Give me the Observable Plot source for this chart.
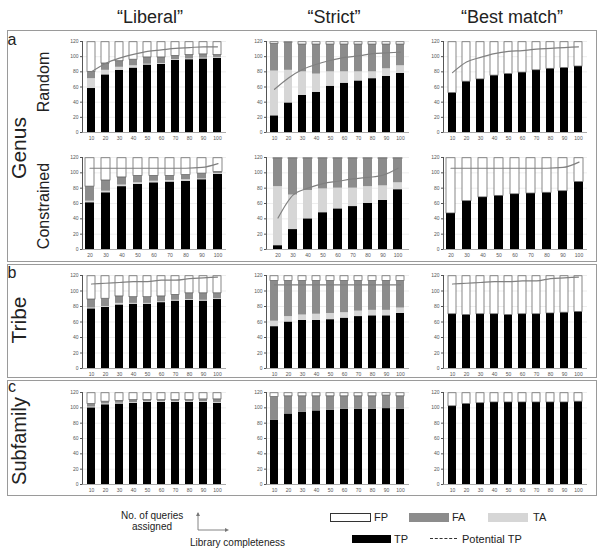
<!DOCTYPE html>
<html><head><meta charset="utf-8">
<script src="https://cdn.jsdelivr.net/npm/d3@7"></script>
<script src="https://cdn.jsdelivr.net/npm/@observablehq/plot@0.6"></script>
<style>
body{margin:0;background:#fff;font-family:"Liberation Sans",Arial,sans-serif;}
#fig{position:relative;width:600px;height:551px;overflow:hidden;background:#fff;}
.box{position:absolute;border:1.5px solid #9a9a9a;box-sizing:border-box;}
.title{position:absolute;font-size:18px;color:#222;transform:translate(-50%,-50%);white-space:nowrap;}
.vlab{position:absolute;transform:translate(-50%,-50%) rotate(-90deg);white-space:nowrap;color:#222;}
.letter{position:absolute;font-size:16px;color:#222;transform:translate(-50%,-50%);}
.lg{position:absolute;font-size:11px;color:#222;white-space:nowrap;transform:translateY(-50%);}
.sw{position:absolute;box-sizing:border-box;}
</style></head>
<body><div id="fig"></div>
<script>
// ---------- data ----------
const colTitles = ["\u201cLiberal\u201d", "\u201cStrict\u201d", "\u201cBest match\u201d"];
const xFull = [10,20,30,40,50,60,70,80,90,100];
const xCons = [20,30,40,50,60,70,80,90,100];
const yTicks = [0,20,40,60,80,100,120];

// Genus - Random
const libRandTP = [58,76,82,85,89,90,95,96,97,98];
const libRandTA = [13,6,4,3,1,1,1,1,1,1];
const libRandFA = [9,9,8,8,9,8,5,5,5,3];
const libRandFP = [39,28,25,23,20,20,18,17,16,17];
const libRandPot = [80,91,98,103,107,109,111,112,113,113];

const strRandTP = [22,39,49,53,61,65,68,71,74,78];
const strRandTA = [59,43,31,24,19,15,12,9,10,10];
const strRandFA = [36,36,36,39,36,36,36,36,32,28];
const strRandFP = [2,1,3,3,3,3,3,3,3,3];
const strRandPot = [57,72,83,90,95,99,101,104,105,106];

const bestRandTP = [52,67,70,75,77,79,82,84,85,87];
const bestRandFP = [67,52,49,44,42,40,37,35,34,32];
const bestRandPot = [79,93,99,104,107,108,110,111,112,113];

// Genus - Constrained
const libConsTP = [61,74,82,85,87,88,89,91,98];
const libConsTA = [2,2,2,2,2,2,2,1,1];
const libConsFA = [19,14,10,9,7,6,6,7,2];
const libConsFP = [37,29,25,23,23,23,22,20,18];
const libConsPot = [106,106,106,106,106,106,106,107,112];

const strConsTP = [5,26,40,48,53,56,60,64,78];
const strConsTA = [77,45,37,31,27,24,22,19,9];
const strConsFA = [36,47,41,39,38,38,36,35,31];
const strConsFP = [1,1,1,1,1,1,1,1,1];
const strConsPot = [41,71,80,86,89,92,94,97,106];

const bestConsTP = [47,63,68,70,72,73,74,76,88];
const bestConsFP = [72,56,51,49,47,46,45,43,31];
const bestConsPot = [106,106,106,106,106,106,106,107,114];

// Tribe
const libTribeTP = [77,79,82,83,83,85,87,88,87,89];
const libTribeTA = [1,1,2,1,1,1,1,1,1,1];
const libTribeFA = [11,10,9,8,8,7,7,8,9,7];
const libTribeFP = [30,29,26,27,27,26,24,22,22,22];
const libTribePot = [109,110,111,112,112,114,114,116,117,118];

const strTribeTP = [54,60,62,62,63,65,67,68,68,71];
const strTribeTA = [7,7,7,8,8,7,7,7,7,7];
const strTribeFA = [52,46,44,43,42,41,39,38,38,35];
const strTribeFP = [6,6,6,6,6,6,6,6,6,6];
const strTribePot = [108,108,108,108,108,108,108,108,108,108];

const bestTribeTP = [70,69,70,70,69,70,70,71,72,73];
const bestTribeFP = [49,50,49,49,50,49,49,48,47,46];
const bestTribePot = [109,110,111,112,112,113,113,116,117,118];

// Subfamily
const libSubTP = [100,104,105,106,107,107,107,107,107,106];
const libSubTA = [1,1,1,1,1,1,1,1,1,1];
const libSubFA = [4,3,3,3,2,2,2,2,3,4];
const libSubFP = [14,11,10,9,9,9,9,9,8,8];

const strSubTP = [84,92,94,96,97,98,98,98,99,98];
const strSubFA = [30,23,21,19,18,17,17,17,17,17];
const strSubFP = [5,4,4,4,4,4,4,4,3,4];

const bestSubTP = [102,105,106,107,107,107,107,107,107,108];
const bestSubFP = [17,14,13,12,12,12,12,12,12,11];

const fills = {TP:"#000000", TA:"#d6d6d6", FA:"#8c8c8c", FP:"#ffffff"};

// ---------- layout ----------
const fig = document.getElementById("fig");
const cols = [{x0:82,w:144},{x0:266,w:143},{x0:443,w:144}];
const rows = [{y0:41,h:91},{y0:157,h:92},{y0:275,h:93},{y0:392,h:92}];

function panel(ci, ri, xs, tp, ta, fa, fp, pot) {
  const {x0, w} = cols[ci], {y0, h} = rows[ri];
  const data = [];
  xs.forEach((x, i) => {
    data.push({x, s:"TP", v:tp[i]});
    if (ta) data.push({x, s:"TA", v:ta[i]});
    if (fa) data.push({x, s:"FA", v:fa[i]});
    data.push({x, s:"FP", v:fp[i]});
  });
  const ml = 20, mr = 3, mt = 4, mb = 12;
  const marks = [
    Plot.barY(data, {x:"x", y:"v", z:"s", fill: d => fills[d.s],
      stroke: d => d.s === "FP" ? "#555" : "none", strokeWidth: 0.7}),
    Plot.ruleY([0], {stroke:"#999", strokeWidth:0.8})
  ];
  if (pot) marks.push(Plot.line(xs.map((x, i) => ({x, v: pot[i]})),
    {x:"x", y:"v", stroke:"#808080", strokeWidth:1.2, curve:"monotone-x"}));
  const chart = Plot.plot({
    width: w + ml + mr, height: h + mt + mb,
    marginLeft: ml, marginRight: mr, marginTop: mt, marginBottom: mb,
    style: {fontSize:"5px", fontFamily:"Liberation Sans, Arial, sans-serif", color:"#555", background:"transparent", overflow:"visible"},
    x: {type:"band", domain: xs, paddingInner:0.42, paddingOuter:0.2, label:null, tickSize:0, tickPadding:4},
    y: {domain:[0,120], ticks: yTicks, grid:true, label:null, tickSize:2, tickPadding:2, line:true},
    color: {type:"identity"},
    marks
  });
  chart.style.position = "absolute";
  chart.style.left = (x0 - ml) + "px";
  chart.style.top = (y0 - mt) + "px";
  fig.appendChild(chart);
}

function el(cls, html, styles) {
  const d = document.createElement("div");
  d.className = cls; d.innerHTML = html;
  Object.assign(d.style, styles);
  fig.appendChild(d);
  return d;
}

// boxes
el("box", "", {left:"7px", top:"30px", width:"590px", height:"232px"});
el("box", "", {left:"7px", top:"264px", width:"590px", height:"114px"});
el("box", "", {left:"7px", top:"380px", width:"590px", height:"116px"});

// titles
const titleX = [150, 334, 512];
colTitles.forEach((t, i) => el("title", t, {left: titleX[i] + "px", top:"17px"}));

// letters
el("letter", "a", {left:"12px", top:"40px"});
el("letter", "b", {left:"12px", top:"273px"});
el("letter", "c", {left:"12px", top:"387px"});

// row labels
el("vlab", "Genus", {left:"19px", top:"148px", fontSize:"21px"});
el("vlab", "Random", {left:"44px", top:"82px", fontSize:"16px"});
el("vlab", "Constrained", {left:"44px", top:"206px", fontSize:"16px"});
el("vlab", "Tribe", {left:"19px", top:"320px", fontSize:"21px"});
el("vlab", "Subfamily", {left:"19px", top:"441px", fontSize:"20px"});

// panels
panel(0,0,xFull,libRandTP,libRandTA,libRandFA,libRandFP,libRandPot);
panel(1,0,xFull,strRandTP,strRandTA,strRandFA,strRandFP,strRandPot);
panel(2,0,xFull,bestRandTP,null,null,bestRandFP,bestRandPot);
panel(0,1,xCons,libConsTP,libConsTA,libConsFA,libConsFP,libConsPot);
panel(1,1,xCons,strConsTP,strConsTA,strConsFA,strConsFP,strConsPot);
panel(2,1,xCons,bestConsTP,null,null,bestConsFP,bestConsPot);
panel(0,2,xFull,libTribeTP,libTribeTA,libTribeFA,libTribeFP,libTribePot);
panel(1,2,xFull,strTribeTP,strTribeTA,strTribeFA,strTribeFP,strTribePot);
panel(2,2,xFull,bestTribeTP,null,null,bestTribeFP,bestTribePot);
panel(0,3,xFull,libSubTP,libSubTA,libSubFA,libSubFP,null);
panel(1,3,xFull,strSubTP,null,strSubFA,strSubFP,null);
panel(2,3,xFull,bestSubTP,null,null,bestSubFP,null);

// legend
el("lg", "No. of queries", {left:"121px", top:"515px", fontSize:"10px"});
el("lg", "assigned", {left:"132px", top:"526px", fontSize:"10px"});
el("lg", "Library completeness", {left:"190px", top:"542px", fontSize:"10px"});
const ns = "http://www.w3.org/2000/svg";
const arr = document.createElementNS(ns, "svg");
arr.setAttribute("width", "40"); arr.setAttribute("height", "24");
Object.assign(arr.style, {position:"absolute", left:"194px", top:"510px"});
arr.innerHTML = '<path d="M4,3 V20 H33" fill="none" stroke="#777" stroke-width="0.9"/>' +
  '<path d="M2,6 L4,2 L6,6 Z" fill="#777"/><path d="M31,18 L35,20 L31,22 Z" fill="#777"/>';
fig.appendChild(arr);

el("sw", "", {left:"330px", top:"513px", width:"41px", height:"9px", background:fills.FP, border:"1px solid #333"});
el("lg", "FP", {left:"374px", top:"517px"});
el("sw", "", {left:"409px", top:"513px", width:"40px", height:"9px", background:fills.FA});
el("lg", "FA", {left:"452px", top:"517px"});
el("sw", "", {left:"488px", top:"513px", width:"40px", height:"9px", background:fills.TA});
el("lg", "TA", {left:"533px", top:"517px"});
el("sw", "", {left:"352px", top:"535px", width:"39px", height:"8px", background:fills.TP});
el("lg", "TP", {left:"394px", top:"539px"});
el("sw", "", {left:"430px", top:"538px", width:"27px", height:"0px", borderTop:"1.5px dashed #333"});
el("lg", "Potential TP", {left:"462px", top:"539px"});
</script>
</body></html>
